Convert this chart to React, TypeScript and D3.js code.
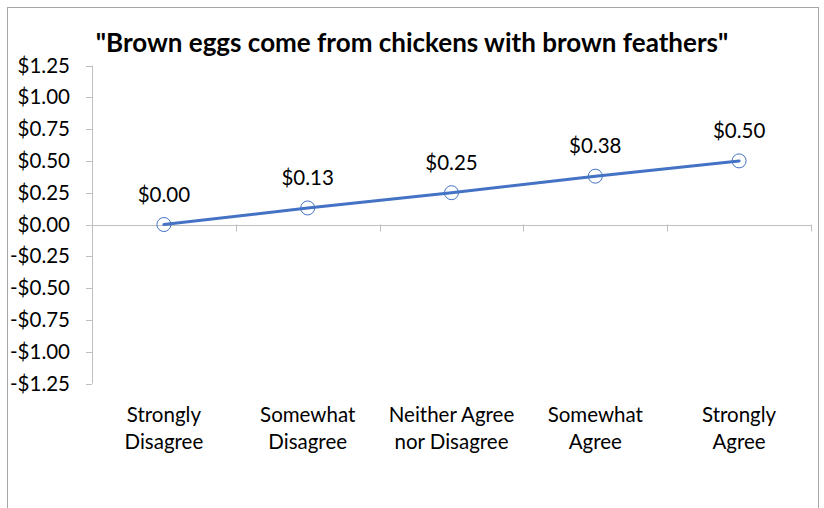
import React from "react";
import * as d3 from "d3";

const categories: string[][] = [
  ["Strongly", "Disagree"],
  ["Somewhat", "Disagree"],
  ["Neither Agree", "nor Disagree"],
  ["Somewhat", "Agree"],
  ["Strongly", "Agree"],
];
const values: number[] = [0.0, 0.13, 0.25, 0.38, 0.5];
const yTicks: number[] = [1.25, 1.0, 0.75, 0.5, 0.25, 0, -0.25, -0.5, -0.75, -1.0, -1.25];
const title = "\"Brown eggs come from chickens with brown feathers\"";

const W = 824;
const H = 508;
const FONT = "Lato, 'Open Sans', sans-serif";
const BLUE = "#4472C4";
const AXIS = "#BFBFBF";

const fmt = (v: number) => (v < 0 ? "-$" : "$") + Math.abs(v).toFixed(2);

export default function App() {
  const plotLeft = 92;
  const plotRight = 811;
  const y = d3.scaleLinear().domain([-1.25, 1.25]).range([383.5, 65.5]);
  const x = d3
    .scaleBand<number>()
    .domain(categories.map((_, i) => i))
    .range([plotLeft, plotRight]);
  const cx = (i: number) => (x(i) as number) + x.bandwidth() / 2;
  const line = d3
    .line<number>()
    .x((_, i) => cx(i))
    .y((d) => y(d));
  const zeroY = y(0);
  const boundaries = d3.range(categories.length + 1).map((i) => plotLeft + i * x.bandwidth());

  return (
    <div style={{ position: "absolute", left: 0, top: 0 }}>
      <svg width={W} height={H} style={{ display: "block", background: "#fff" }}>
        <rect x={7.5} y={7.5} width={811} height={520} fill="#fff" stroke="#A6A6A6" strokeWidth={1} />
        <text
          x={412}
          y={52}
          textAnchor="middle"
          fontFamily={FONT}
          fontWeight="bold"
          fontSize={26}
          fill="#000"
        >
          {title}
        </text>

        {/* value axis */}
        <line x1={plotLeft + 0.5} x2={plotLeft + 0.5} y1={y(1.25)} y2={y(-1.25)} stroke={AXIS} />
        {yTicks.map((t) => (
          <g key={t}>
            <line x1={plotLeft - 6} x2={plotLeft} y1={Math.round(y(t)) + 0.5} y2={Math.round(y(t)) + 0.5} stroke={AXIS} />
            <text
              x={70}
              y={y(t)}
              dy="0.35em"
              textAnchor="end"
              fontFamily={FONT}
              fontSize={20.5}
              fill="#000"
            >
              {fmt(t)}
            </text>
          </g>
        ))}

        {/* category axis on zero line */}
        <line x1={plotLeft} x2={plotRight} y1={Math.round(zeroY) + 0.5} y2={Math.round(zeroY) + 0.5} stroke={AXIS} />
        {boundaries.map((b, i) => (
          <line
            key={i}
            x1={Math.round(b) + 0.5}
            x2={Math.round(b) + 0.5}
            y1={zeroY}
            y2={zeroY + 7}
            stroke={AXIS}
          />
        ))}
        {categories.map((c, i) => (
          <text key={i} x={cx(i)} textAnchor="middle" fontFamily={FONT} fontSize={20.5} fill="#000">
            {c.map((ln, j) => (
              <tspan key={j} x={cx(i)} y={422 + j * 27}>
                {ln}
              </tspan>
            ))}
          </text>
        ))}

        {/* series */}
        <path d={line(values) || ""} fill="none" stroke={BLUE} strokeWidth={3} strokeLinecap="round" />
        {values.map((v, i) => (
          <g key={i}>
            <circle cx={cx(i)} cy={y(v)} r={7} fill="none" stroke={BLUE} strokeWidth={1} />
            <text
              x={cx(i)}
              y={y(v) - 30}
              dy="0.35em"
              textAnchor="middle"
              fontFamily={FONT}
              fontSize={20.5}
              fill="#000"
            >
              {fmt(v)}
            </text>
          </g>
        ))}
      </svg>
    </div>
  );
}
